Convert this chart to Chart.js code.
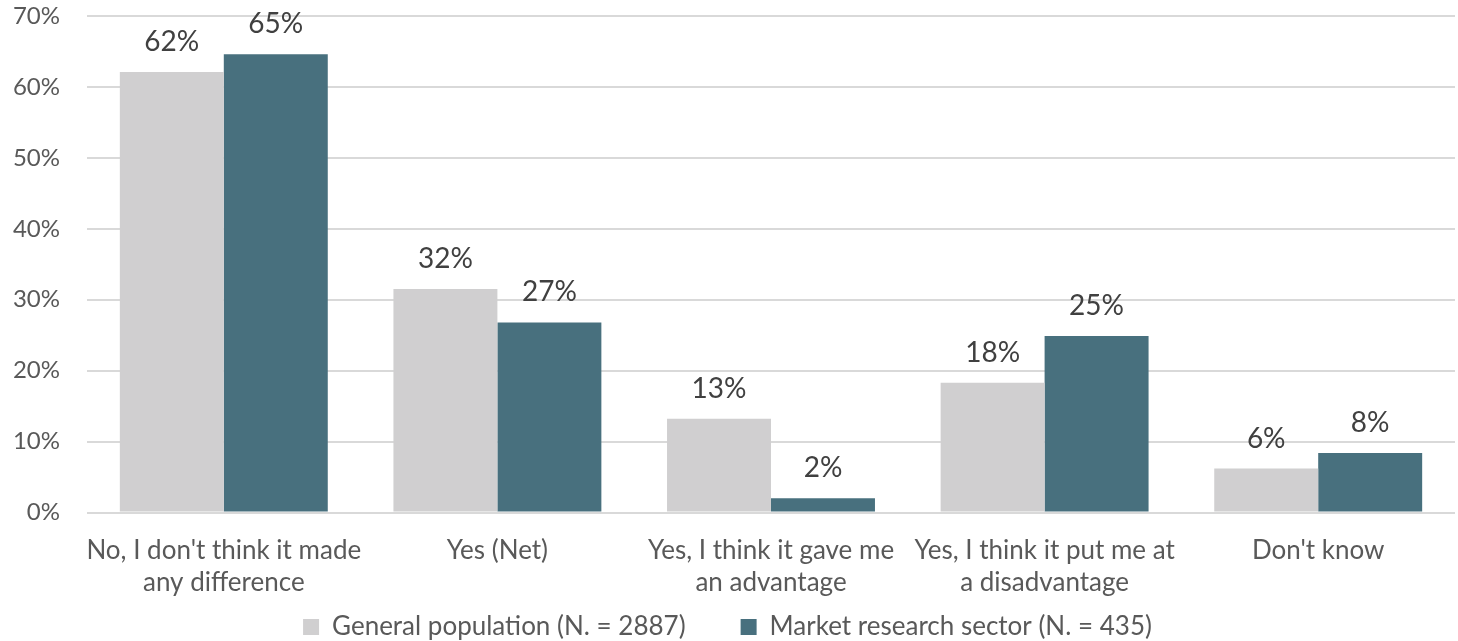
<!DOCTYPE html>
<html>
<head>
<meta charset="utf-8">
<script src="https://cdn.jsdelivr.net/npm/chart.js@4.4.0/dist/chart.umd.min.js"></script>
<style>
  html, body { margin: 0; padding: 0; background: #ffffff; }
  #wrap { width: 1458px; height: 641px; position: relative; }
</style>
</head>
<body>
<div id="wrap"><canvas id="c" width="1458" height="641"></canvas></div>
<script>
const categories = [
  ["No, I don't think it made", "any difference"],
  ["Yes (Net)"],
  ["Yes, I think it gave me", "an advantage"],
  ["Yes, I think it put me at", "a disadvantage"],
  ["Don't know"]
];
const seriesNames = ["General population (N. = 2887)", "Market research sector (N. = 435)"];
const generalPopulation = [62.1, 31.5, 13.2, 18.3, 6.2];
const marketResearch = [64.6, 26.8, 2.0, 24.9, 8.4];
const yTicks = [0, 10, 20, 30, 40, 50, 60, 70];

const FONT = "Lato, 'Open Sans', sans-serif";

const dataLabels = {
  id: 'dataLabels',
  afterDatasetsDraw(chart) {
    const ctx = chart.ctx;
    ctx.save();
    ctx.font = "28px " + FONT;
    ctx.fillStyle = '#404040';
    ctx.textAlign = 'center';
    ctx.textBaseline = 'middle';
    chart.data.datasets.forEach((ds, i) => {
      const meta = chart.getDatasetMeta(i);
      meta.data.forEach((bar, j) => {
        ctx.fillText(Math.round(ds.data[j]) + '%', bar.x, bar.y - 30);
      });
    });
    ctx.restore();
  }
};

// let the category labels overflow the (compact) x-axis box without being clipped
const unclipX = {
  id: 'unclipX',
  afterLayout(chart) {
    chart.scales.x.bottom = chart.height;
  }
};

new Chart(document.getElementById('c'), {
  type: 'bar',
  data: {
    labels: categories,
    datasets: [
      { label: seriesNames[0], data: generalPopulation, backgroundColor: '#D0CFD0' },
      { label: seriesNames[1], data: marketResearch, backgroundColor: '#48707E' }
    ]
  },
  options: {
    responsive: false,
    animation: false,
    devicePixelRatio: 1,
    layout: { padding: { top: 16, right: 3, left: 0, bottom: -9 } },
    datasets: { bar: { categoryPercentage: 0.76, barPercentage: 1.0 } },
    scales: {
      x: {
        grid: { display: false, drawTicks: false },
        border: { display: false },
        ticks: {
          color: '#595959',
          font: { family: FONT, size: 26, lineHeight: 1.23 },
          padding: 22,
          maxRotation: 0,
          autoSkip: false
        },
        afterFit: s => { s.height = 46.5; s.paddingLeft = 0; s.paddingRight = 0; }
      },
      y: {
        min: 0,
        max: 70,
        afterBuildTicks: s => { s.ticks = yTicks.map(v => ({ value: v })); },
        grid: { color: '#D9D9D9', lineWidth: 2, drawTicks: false },
        border: { display: false },
        ticks: {
          color: '#595959',
          font: { family: FONT, size: 24 },
          padding: 27,
          callback: v => v + '%'
        },
        afterFit: s => { s.width = 87; s.paddingTop = 0; s.paddingBottom = 0; }
      }
    },
    plugins: {
      legend: {
        position: 'bottom',
        labels: {
          color: '#595959',
          font: { family: FONT, size: 26 },
          boxWidth: 16,
          boxHeight: 16,
          padding: 55,
          useBorderRadius: false
        }
      },
      tooltip: { enabled: false }
    }
  },
  plugins: [dataLabels, unclipX]
});
</script>
</body>
</html>
